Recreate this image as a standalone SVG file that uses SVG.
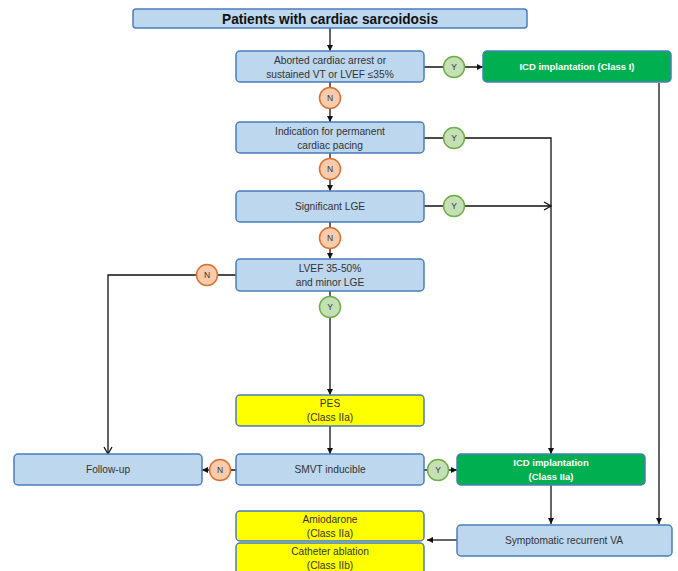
<svg xmlns="http://www.w3.org/2000/svg" width="678" height="571" viewBox="0 0 678 571">
  <defs>
    <marker id="arr" markerUnits="userSpaceOnUse" markerWidth="7" markerHeight="7" refX="6" refY="3.5" orient="auto">
      <path d="M0,0.5 L6,3.5 L0,6.5 z" fill="#111"/>
    </marker>
    <marker id="open" markerUnits="userSpaceOnUse" markerWidth="10" markerHeight="10" refX="8" refY="5" orient="auto">
      <path d="M1,1 L8,5 L1,9" fill="none" stroke="#111" stroke-width="1.3"/>
    </marker>
    <style>
      .box { stroke: #4a7ebb; stroke-width: 1.5; }
      .blue { fill: #bdd7ee; }
      .green { fill: #00b050; }
      .yellow { fill: #ffff00; }
      .t { font-family: "Liberation Sans", Arial, sans-serif; font-size: 10.2px; fill: #333; text-anchor: middle; }
      .tw { font-family: "Liberation Sans", Arial, sans-serif; font-size: 9.5px; fill: #fff; font-weight: bold; text-anchor: middle; }
      .ty { fill: #c5e0b4; stroke: #70ad47; stroke-width: 1.5; }
      .tn { fill: #f8cbad; stroke: #dd7030; stroke-width: 1.5; }
      .ct { font-family: "Liberation Sans", Arial, sans-serif; font-size: 8.5px; fill: #333; text-anchor: middle; }
      .ln { stroke: #111; stroke-width: 1.3; fill: none; }
    </style>
  </defs>

  <!-- connectors -->
  <g id="connectors">
    <path class="ln" d="M330,28 V51" marker-end="url(#arr)"/>
    <path class="ln" d="M424,67 H483" marker-end="url(#arr)"/>
    <path class="ln" d="M330,82 V122" marker-end="url(#arr)"/>
    <path class="ln" d="M424,138 H551 V454" marker-end="url(#arr)"/>
    <path class="ln" d="M330,153 V191" marker-end="url(#arr)"/>
    <path class="ln" d="M424,206 H551" marker-end="url(#open)"/>
    <path class="ln" d="M330,222 V259" marker-end="url(#arr)"/>
    <path class="ln" d="M236,275 H108 V454" marker-end="url(#open)"/>
    <path class="ln" d="M330,291 V395" marker-end="url(#arr)"/>
    <path class="ln" d="M330,426 V454" marker-end="url(#arr)"/>
    <path class="ln" d="M236,470 H202" marker-end="url(#arr)"/>
    <path class="ln" d="M424,470 H457" marker-end="url(#arr)"/>
    <path class="ln" d="M551,485 V524" marker-end="url(#arr)"/>
    <path class="ln" d="M659,83 V524" marker-end="url(#arr)"/>
    <path class="ln" d="M457,540 H427" marker-end="url(#arr)"/>
  </g>

  <g id="title">
    <rect class="box blue" x="133" y="9" width="394" height="19" rx="3"/>
    <text x="330" y="24" font-family="Liberation Sans, Arial, sans-serif" font-size="15" font-weight="bold" fill="#111" text-anchor="middle" textLength="216" lengthAdjust="spacingAndGlyphs">Patients with cardiac sarcoidosis</text>
  </g>

  <g id="arrest">
    <rect class="box blue" x="236" y="51" width="188" height="31" rx="4"/>
    <text class="t" x="330" y="64">Aborted cardiac arrest or</text>
    <text class="t" x="330" y="78">sustained VT or LVEF ≤35%</text>
  </g>

  <g id="icd1">
    <rect class="box green" x="483" y="51" width="188" height="31" rx="4"/>
    <text class="tw" x="577" y="70">ICD implantation  (Class I)</text>
  </g>

  <g id="pacing">
    <rect class="box blue" x="236" y="122" width="188" height="31" rx="4"/>
    <text class="t" x="330" y="135">Indication for permanent</text>
    <text class="t" x="330" y="149">cardiac pacing</text>
  </g>

  <g id="lge">
    <rect class="box blue" x="236" y="191" width="188" height="31" rx="4"/>
    <text class="t" x="330" y="210">Significant LGE</text>
  </g>

  <g id="lvef">
    <rect class="box blue" x="236" y="259" width="188" height="32" rx="4"/>
    <text class="t" x="330" y="272">LVEF 35-50%</text>
    <text class="t" x="330" y="286">and minor LGE</text>
  </g>

  <g id="pes">
    <rect class="box yellow" x="236" y="395" width="188" height="31" rx="4"/>
    <text class="t" x="330" y="407">PES</text>
    <text class="t" x="330" y="421">(Class IIa)</text>
  </g>

  <g id="followup">
    <rect class="box blue" x="14" y="454" width="188" height="31" rx="4"/>
    <text class="t" x="108" y="473">Follow-up</text>
  </g>

  <g id="smvt">
    <rect class="box blue" x="236" y="454" width="188" height="31" rx="4"/>
    <text class="t" x="330" y="473">SMVT inducible</text>
  </g>

  <g id="icd2">
    <rect class="box green" x="457" y="454" width="188" height="31" rx="4"/>
    <text class="tw" x="551" y="466">ICD implantation</text>
    <text class="tw" x="551" y="480">(Class IIa)</text>
  </g>

  <g id="amiodarone">
    <rect class="box yellow" x="236" y="511" width="188" height="30" rx="4"/>
    <text class="t" x="330" y="523">Amiodarone</text>
    <text class="t" x="330" y="537">(Class IIa)</text>
  </g>

  <g id="ablation">
    <rect class="box yellow" x="236" y="543" width="188" height="32" rx="4"/>
    <text class="t" x="330" y="555">Catheter ablation</text>
    <text class="t" x="330" y="569">(Class IIb)</text>
  </g>

  <g id="recurrent">
    <rect class="box blue" x="457" y="525" width="215" height="31" rx="4"/>
    <text class="t" x="564" y="544">Symptomatic recurrent VA</text>
  </g>

  <!-- decision badges -->
  <g id="y1"><circle class="ty" cx="454" cy="67" r="10.5"/><text class="ct" x="454" y="70">Y</text></g>
  <g id="n1"><circle class="tn" cx="330" cy="98" r="10.5"/><text class="ct" x="330" y="101">N</text></g>
  <g id="y2"><circle class="ty" cx="454" cy="138" r="10.5"/><text class="ct" x="454" y="141">Y</text></g>
  <g id="n2"><circle class="tn" cx="330" cy="169" r="10.5"/><text class="ct" x="330" y="172">N</text></g>
  <g id="y3"><circle class="ty" cx="454" cy="206" r="10.5"/><text class="ct" x="454" y="209">Y</text></g>
  <g id="n3"><circle class="tn" cx="330" cy="238" r="10.5"/><text class="ct" x="330" y="241">N</text></g>
  <g id="n4"><circle class="tn" cx="207" cy="275" r="10.5"/><text class="ct" x="207" y="278">N</text></g>
  <g id="y4"><circle class="ty" cx="330" cy="307" r="10.5"/><text class="ct" x="330" y="310">Y</text></g>
  <g id="n5"><circle class="tn" cx="220" cy="470" r="10.5"/><text class="ct" x="220" y="473">N</text></g>
  <g id="y5"><circle class="ty" cx="438" cy="470" r="10.5"/><text class="ct" x="438" y="473">Y</text></g>
</svg>
